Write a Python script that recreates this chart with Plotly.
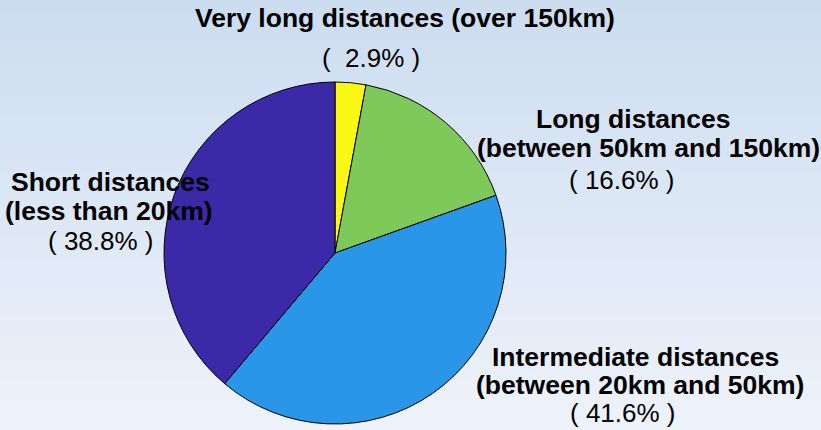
import plotly.graph_objects as go

# Data
categories = [
    "Very long distances (over 150km)",
    "Long distances<br>(between 50km and 150km)",
    "Intermediate distances<br>(between 20km and 50km)",
    "Short distances<br>(less than 20km)",
]
shares = [2.9, 16.6, 41.6, 38.8]
colors = ["#F8F814", "#7FC95A", "#2A96E8", "#3C29A8"]

W, H = 821, 430

fig = go.Figure()
fig.add_trace(go.Pie(
    labels=categories,
    values=shares,
    sort=False,
    direction="clockwise",
    rotation=0,
    marker=dict(colors=colors, line=dict(color="#000000", width=1)),
    textinfo="none",
    hoverinfo="label+percent",
    showlegend=False,
    domain=dict(x=[(335 - 171) / W, (335 + 171) / W],
                y=[1 - (253 + 171) / H, 1 - (253 - 171) / H]),
))

# Background vertical gradient
top = (204, 221, 240)
bot = (238, 242, 250)
n = 60
shapes = []
for i in range(n):
    t = i / (n - 1)
    c = tuple(round(top[k] + (bot[k] - top[k]) * t) for k in range(3))
    shapes.append(dict(type="rect", xref="paper", yref="paper",
                       x0=0, x1=1, y0=1 - (i + 1) / n, y1=1 - i / n + 0.002,
                       fillcolor="rgb(%d,%d,%d)" % c, line=dict(width=0), layer="below"))

# Label placement (pixel positions of title lines and percentage line)
title_pos = [
    [(405, 18)],
    [(633, 119), (648, 148)],
    [(635, 357), (640, 385)],
    [(110, 182), (109, 211)],
]
pct_pos = [(371, 58), (622, 180), (623, 413), (101, 241)]

FONT = "Liberation Sans, Arial, sans-serif"
annotations = []
for cat, val, tpos, ppos in zip(categories, shares, title_pos, pct_pos):
    lines = cat.split("<br>")
    for line, (px, py) in zip(lines, tpos):
        annotations.append(dict(
            x=px / W, y=1 - py / H, xref="paper", yref="paper",
            text="<b>%s</b>" % line, showarrow=False,
            xanchor="center", yanchor="middle",
            font=dict(family=FONT, size=26.5, color="#000000")))
    if val < 10:
        pct = "(  %.1f%% )" % val
    else:
        pct = "( %.1f%% )" % val
    annotations.append(dict(
        x=ppos[0] / W, y=1 - ppos[1] / H, xref="paper", yref="paper",
        text=pct.replace(" ", "&nbsp;"), showarrow=False,
        xanchor="center", yanchor="middle",
        font=dict(family=FONT, size=26, color="#000000")))

fig.update_layout(
    width=W, height=H,
    margin=dict(l=0, r=0, t=0, b=0),
    paper_bgcolor="#DCE6F4",
    plot_bgcolor="rgba(0,0,0,0)",
    shapes=shapes,
    annotations=annotations,
)

fig.write_html("out.html")
